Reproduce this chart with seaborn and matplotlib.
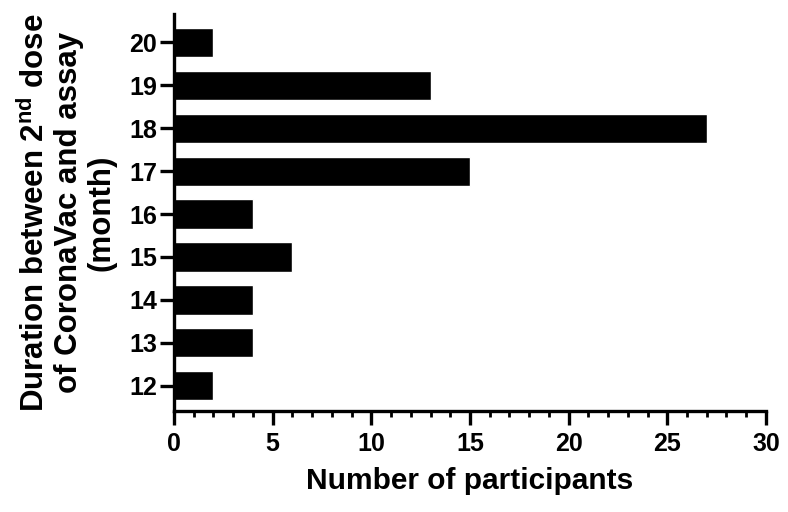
import matplotlib
matplotlib.use('Agg')
import matplotlib.pyplot as plt
import pandas as pd
import seaborn as sns
from matplotlib.ticker import MultipleLocator

# Data
months = ['20', '19', '18', '17', '16', '15', '14', '13', '12']
participants = [2, 13, 27, 15, 4, 6, 4, 4, 2]

df = pd.DataFrame({'month': months, 'n': participants})

sns.set_theme(style='ticks')
plt.rcParams['font.family'] = ['Liberation Sans', 'DejaVu Sans']
plt.rcParams['font.weight'] = 'bold'
plt.rcParams['text.color'] = 'black'
plt.rcParams['axes.labelcolor'] = 'black'
plt.rcParams['mathtext.fontset'] = 'custom'
plt.rcParams['mathtext.bf'] = 'Liberation Sans:bold'
plt.rcParams['mathtext.rm'] = 'Liberation Sans:bold'

fig = plt.figure(figsize=(7.88, 5.12), dpi=100)
ax = fig.add_axes([0.2208, 0.197, 0.7512, 0.7757])

sns.barplot(data=df, x='n', y='month', order=months, color='black',
            width=0.68, orient='h', ax=ax, saturation=1)

ax.set_xlim(0, 30)
ax.set_ylim(8.59, -0.66)
ax.xaxis.set_major_locator(MultipleLocator(5))
ax.xaxis.set_minor_locator(MultipleLocator(1))

for side in ['top', 'right']:
    ax.spines[side].set_visible(False)
for side in ['left', 'bottom']:
    ax.spines[side].set_linewidth(2.4)
    ax.spines[side].set_color('black')

ax.tick_params(axis='both', which='major', width=2.4, length=10, pad=2,
               labelsize=18, colors='black')
ax.tick_params(axis='x', which='minor', width=2.0, length=4.5, colors='black')
ax.tick_params(axis='x', which='major', pad=5)
for lab in ax.get_xticklabels() + ax.get_yticklabels():
    lab.set_fontweight('bold')

ax.set_xlabel('Number of participants', fontsize=21.5, fontweight='bold', labelpad=8)
ax.set_ylabel('Duration between 2$^{\\mathbf{nd}}$ dose\nof CoronaVac and assay\n(month)',
              fontsize=22.5, fontweight='bold', linespacing=1.12, labelpad=9)

fig.savefig('out.png', dpi=100)
